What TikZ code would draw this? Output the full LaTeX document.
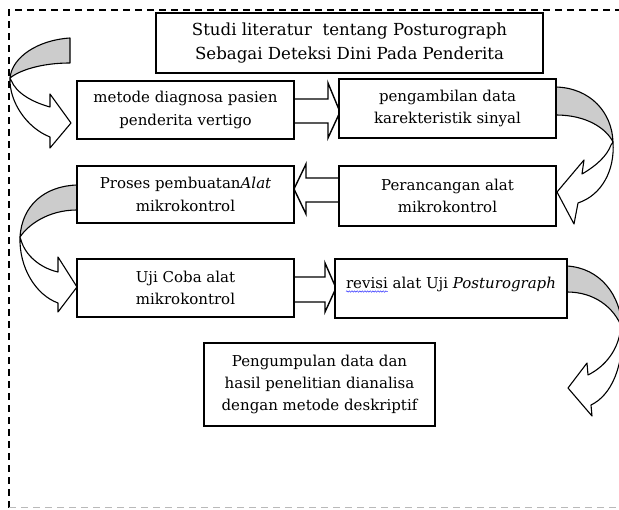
\documentclass[tikz,border=0pt]{standalone}
\usepackage{fontspec}
\setmainfont{DejaVu Serif}
\usetikzlibrary{calc,decorations.pathmorphing}
\newcommand\dfont{\fontsize{15}{22.3}\selectfont}
\newcommand\tfont{\fontsize{16.6}{24}\selectfont}
\newlength\revfull
\newlength\revw
\begin{document}
\settowidth\revfull{\dfont revisi alat Uji \textit{Posturograph}}%
\settowidth\revw{\dfont revisi}%
\begin{tikzpicture}[x=1pt,y=-1pt,
  box/.style={draw,line width=1.6pt,fill=white,inner sep=0pt,align=center,font=\dfont},
  carr/.style={draw,line width=1.1pt,line join=round},
  backband/.style={carr,fill=gray!40},
  frontband/.style={carr,fill=white},
  blk/.style={draw,line width=1.4pt,fill=white,line join=miter}]
\useasboundingbox (0,0) rectangle (619,510);
\clip (0,0) rectangle (619,510);
% dashed frame
\draw[line width=1.4pt,dash pattern=on 7pt off 5pt] (9,508) -- (9,10) -- (630,10);
\draw[gray!55,line width=1pt,dash pattern=on 7pt off 5pt] (9,508) -- (630,508);

% curved arrow A (into box 1)
\draw[backband] (70,38) .. controls (38,40) and (12,57) .. (10,78) .. controls (20,70) and (42,63) .. (70,63) -- cycle;
\draw[frontband] (10,78) .. controls (9,102) and (27,128) .. (50,137) -- (50,148) -- (71,123) -- (50,94) -- (50,107) .. controls (32,102) and (16,93) .. (11,80) -- cycle;
% curved arrow B (box 2 to box 4)
\draw[backband] (556,87) .. controls (590,88) and (612,112) .. (613,142) .. controls (606,128) and (586,115) .. (556,115) -- cycle;
\draw[frontband] (613,142) .. controls (615,170) and (602,195) .. (578,203) -- (574,224) -- (557,192) -- (584,160) -- (582,174) .. controls (596,166) and (607,156) .. (611,145) -- cycle;
% curved arrow C (box 3 to box 5)
\draw[backband] (77,185) .. controls (45,186) and (22,205) .. (20,237) .. controls (28,225) and (48,210) .. (77,210) -- cycle;
\draw[frontband] (20,237) .. controls (19,268) and (36,295) .. (58,303) -- (58,312) -- (77,287) -- (58,257) -- (58,272) .. controls (40,268) and (25,255) .. (21,240) -- cycle;
% curved arrow D (box 6 down)
\draw[backband] (567,266) .. controls (600,268) and (621,295) .. (622,328) .. controls (614,307) and (594,292) .. (567,292) -- cycle;
\draw[frontband] (622,328) .. controls (624,365) and (612,395) .. (591,405) -- (592,416) -- (568,388) -- (587,363) -- (588,375) .. controls (606,366) and (617,350) .. (620,333) -- cycle;

% straight block arrows
\draw[blk] (290,99) -- (328,99) -- (328,83) -- (340,112) -- (328,138) -- (328,123) -- (290,123);
\draw[blk] (343,178) -- (306,178) -- (306,164) -- (294,189) -- (306,214) -- (306,202) -- (343,202);
\draw[blk] (290,277) -- (325,277) -- (325,263) -- (336,288) -- (325,312) -- (325,302) -- (290,302);

% boxes
\node[box,font=\tfont,minimum width=387pt,minimum height=60pt] (t) at (349.5,43) {Studi literatur\ \ tentang Posturograph\\Sebagai Deteksi Dini Pada Penderita};
\node[box,minimum width=217pt,minimum height=58pt] (b1) at (185.5,110) {metode diagnosa pasien\\penderita vertigo};
\node[box,minimum width=217pt,minimum height=59pt] (b2) at (447.5,108.5) {pengambilan data\\karekteristik sinyal};
\node[box,minimum width=217pt,minimum height=57pt] (b3) at (185.5,194.5) {Proses pembuatan\textit{Alat}\\mikrokontrol};
\node[box,minimum width=217pt,minimum height=60pt] (b4) at (447.5,196) {Perancangan alat\\mikrokontrol};
\node[box,minimum width=217pt,minimum height=58pt] (b5) at (185.5,288) {Uji Coba alat\\mikrokontrol};
\node[box,align=none,minimum width=232pt,minimum height=59pt,text depth=11pt] (b6) at (451,288.5) {revisi alat Uji \textit{Posturograph}};
\node[box,minimum width=231pt,minimum height=83pt] (b7) at (319.5,384.5) {Pengumpulan data dan\\hasil penelitian dianalisa\\dengan metode deskriptif};

% spell-check underline under "revisi"
\coordinate (ru) at ($(b6.center)+(-0.5\revfull,-3pt)$);
\draw[blue!80,line width=0.5pt,decorate,decoration={snake,amplitude=0.7pt,segment length=2.6pt}] (ru) -- ++(\revw,0pt);
\end{tikzpicture}
\end{document}
